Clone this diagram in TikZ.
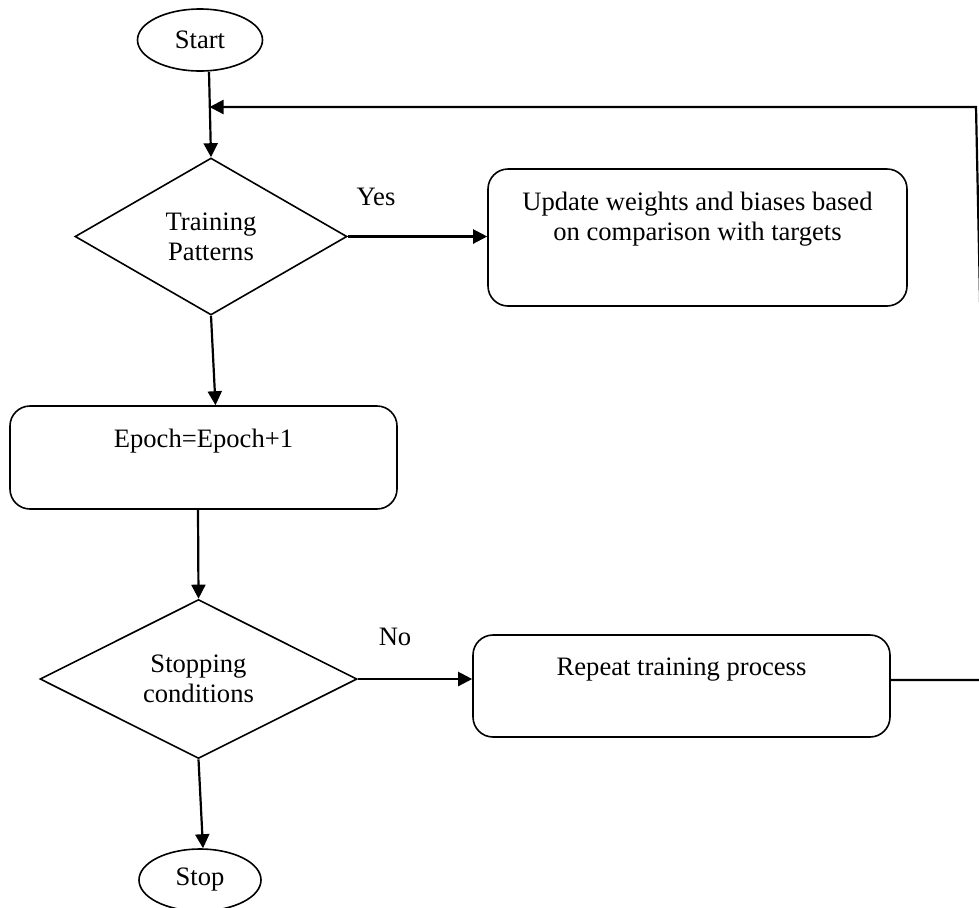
\documentclass[tikz,border=0pt]{standalone}
\usepackage{fontspec}
\setmainfont{Liberation Serif}
\usetikzlibrary{shapes.geometric,arrows.meta,calc}
\begin{document}
\begin{tikzpicture}[x=0.5pt,y=-0.5pt,
  every node/.style={font=\fontsize{13.3}{15}\selectfont},
  term/.style={draw, ellipse, line width=0.8pt, minimum width=62.5pt, minimum height=31pt, inner sep=0pt},
  decision/.style={draw, diamond, line width=0.8pt, inner sep=0pt, align=center},
  procbox/.style={draw, rounded corners=10pt, line width=0.8pt, inner sep=0pt},
  boxtext/.style={anchor=north, inner sep=0pt, align=center, yshift=-11.5pt},
  arr/.style={line width=1.1pt, -{Triangle[length=7pt,width=7pt]}},
  lbl/.style={anchor=base, inner sep=0pt}]
\useasboundingbox (0,0) rectangle (979,907);
\clip (0,0) rectangle (979,907);
% nodes
\node[term] (start) at (200,40) {Start};
\node[decision, minimum width=136pt, minimum height=78.5pt] (d1) at (211,236.5) {Training\\Patterns};
\node[procbox, minimum width=209.5pt, minimum height=68.5pt] (upd) at (697.5,237.5) {};
\node[boxtext] (updt) at (upd.north) {Update weights and biases based\\on comparison with targets};
\node[procbox, minimum width=193.5pt, minimum height=51.5pt] (epoch) at (203.5,457.5) {};
\node[boxtext] (epocht) at (epoch.north) {Epoch=Epoch+1};
\node[decision, minimum width=158.5pt, minimum height=79.5pt] (d2) at (198.5,679) {Stopping\\conditions};
\node[procbox, minimum width=208.5pt, minimum height=51pt] (rep) at (681.5,686) {};
\node[boxtext] (rept) at (rep.north) {Repeat training process};
\node[term, minimum width=61pt] (stop) at (200,880) {Stop};
\node[lbl] (yes) at (376,205) {Yes};
\node[lbl] (no) at (395,645) {No};
% coordinates
\coordinate (join) at (209.5,107);
\coordinate (rbot) at (988,680);
\coordinate (rtop) at (976,107);
% connectors
\draw[arr] ([xshift=4.5pt]start.south) -- (d1.north);
\draw[arr] (d1.east) -- (upd.west |- d1.east);
\draw[arr] (d1.south) -- ([xshift=6pt]epoch.north);
\draw[arr] ([xshift=-2.75pt]epoch.south) -- (d2.north);
\draw[arr] (d2.east) -- (rep.west |- d2.east);
\draw[arr] (d2.south) -- ([xshift=1.5pt]stop.north);
\draw[arr] ([yshift=3pt]rep.east) -- (rbot) -- (rtop) -- (join);
\end{tikzpicture}
\end{document}
